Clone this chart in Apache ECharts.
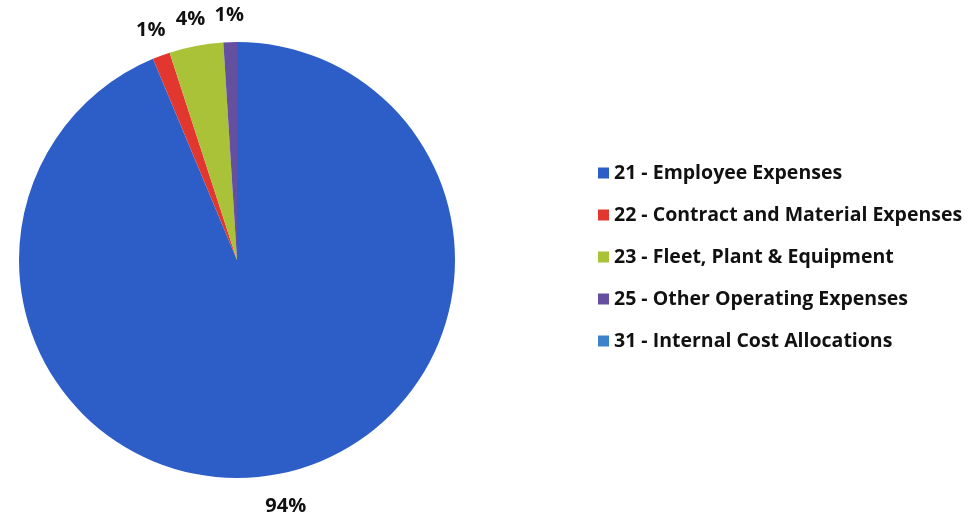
<!DOCTYPE html>
<html>
<head>
<meta charset="utf-8">
<script src="https://cdn.jsdelivr.net/npm/echarts@6/dist/echarts.min.js"></script>
<style>
  html, body { margin: 0; padding: 0; background: #fff; }
  #chart { width: 975px; height: 518px; }
</style>
</head>
<body>
<div id="chart"></div>
<script>
// Expense categories and their share of the total budget
const categories = [
  '21 - Employee Expenses',
  '22 - Contract and Material Expenses',
  '23 - Fleet, Plant & Equipment',
  '25 - Other Operating Expenses',
  '31 - Internal Cost Allocations'
];
const shares = [93.7, 1.3, 4.0, 1.0, 0];
const colors = ['#2d5ec7', '#e2372f', '#a9c238', '#64509f', '#3c83cc'];

const CX = 237, CY = 260, R = 218, LABEL_R = 248;

const chart = echarts.init(document.getElementById('chart'));
chart.setOption({
  animation: false,
  color: colors,
  legend: {
    orient: 'vertical',
    left: 593,
    top: 158,
    itemWidth: 11,
    itemHeight: 11,
    itemGap: 22,
    icon: 'rect',
    textStyle: { fontFamily: 'Open Sans', fontWeight: 'bold', fontSize: 19.5, lineHeight: 20, color: '#111' },
    data: categories
  },
  series: [{
    type: 'pie',
    center: [CX, CY],
    radius: [0, R],
    startAngle: 90,
    clockwise: true,
    avoidLabelOverlap: false,
    itemStyle: { borderWidth: 0 },
    label: {
      show: true,
      position: 'outside',
      fontFamily: 'Open Sans',
      fontWeight: 'bold',
      fontSize: 20,
      color: '#111',
      formatter: p => p.value > 0 ? Math.round(p.percent) + '%' : ''
    },
    labelLine: { show: false, length: 10, length2: 0 },
    // centre each percentage on its slice's mid-angle, just outside the rim
    labelLayout: function (params) {
      const pts = params.labelLinePoints;
      if (!pts) return {};
      const dx = pts[0][0] - CX, dy = pts[0][1] - CY;
      const d = Math.sqrt(dx * dx + dy * dy) || 1;
      return {
        x: CX + dx / d * LABEL_R,
        y: CY + dy / d * LABEL_R + 3,
        align: 'center',
        verticalAlign: 'middle'
      };
    },
    data: categories.map((name, i) => ({ name: name, value: shares[i] }))
  }]
});
</script>
</body>
</html>
